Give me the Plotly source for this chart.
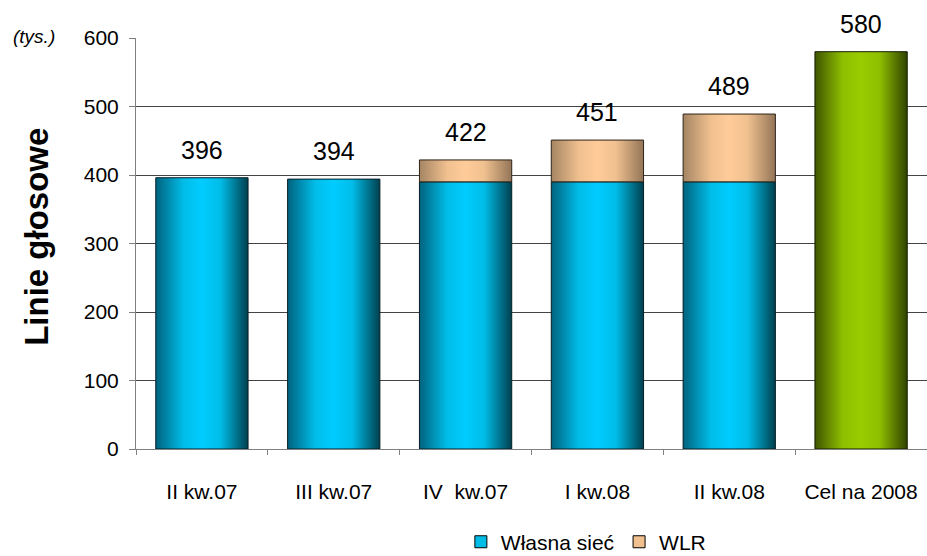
import plotly.graph_objects as go

categories = ["II kw.07", "III kw.07", "IV  kw.07", "I kw.08", "II kw.08", "Cel na 2008"]
wlasna_siec = [396, 394, 390, 390, 390, None]
wlr = [0, 0, 32, 61, 99, None]
cel = [None, None, None, None, None, 580]
totals = [396, 394, 422, 451, 489, 580]
y_ticks = [0, 100, 200, 300, 400, 500, 600]

BAR_W = 0.7
blue_scale = [[0, "#00627e"], [0.3, "#00bde8"], [0.5, "#00ccff"], [0.7, "#00bde8"], [1, "#00404f"]]
tan_scale = [[0, "#a58563"], [0.3, "#f0c08f"], [0.5, "#ffcc99"], [0.7, "#f0c08f"], [1, "#937558"]]
green_scale = [[0, "#3e5500"], [0.3, "#8fbf00"], [0.5, "#99cc00"], [0.7, "#8fbf00"], [1, "#2f4200"]]

fig = go.Figure()

def add_segment(i, base, top, scale, outline):
    x0, x1 = i - BAR_W / 2, i + BAR_W / 2
    fig.add_trace(go.Scatter(
        x=[x0, x1, x1, x0, x0], y=[base, base, top, top, base],
        mode="lines", fill="toself",
        fillgradient=dict(type="horizontal", colorscale=scale),
        line=dict(color=outline, width=1),
        showlegend=False, hoverinfo="skip"))

for i in range(len(categories)):
    if wlasna_siec[i] is not None:
        add_segment(i, 0, wlasna_siec[i], blue_scale, "#061e25")
        if wlr[i]:
            add_segment(i, wlasna_siec[i], wlasna_siec[i] + wlr[i], tan_scale, "#2e2318")
    if cel[i] is not None:
        add_segment(i, 0, cel[i], green_scale, "#141c00")

# legend entries
fig.add_trace(go.Bar(x=[None], y=[None], name="Własna sieć",
                     marker=dict(color="#00bde8", line=dict(color="#000000", width=1))))
fig.add_trace(go.Bar(x=[None], y=[None], name="WLR",
                     marker=dict(color="#f0c08f", line=dict(color="#000000", width=1))))

annotations = [
    dict(x=i, y=v, xref="x", yref="y", text=str(v), showarrow=False,
         xanchor="center", yanchor="bottom", yshift=12,
         font=dict(size=25, color="#000000"))
    for i, v in enumerate(totals)
]
annotations += [
    dict(text="<b>Linie głosowe</b>", textangle=-90, xref="paper", yref="paper",
         x=-0.126, y=0.517, xanchor="center", yanchor="middle", showarrow=False,
         font=dict(size=33, color="#000000")),
    dict(text="<i>(tys.)</i>", xref="paper", yref="paper",
         x=-0.129, y=1.003, xanchor="center", yanchor="middle", showarrow=False,
         font=dict(size=19, color="#000000")),
]

fig.update_layout(
    width=927, height=556,
    margin=dict(l=136, r=0, t=38, b=107, autoexpand=False),
    paper_bgcolor="white", plot_bgcolor="white",
    font=dict(family="Liberation Sans, Arial", size=21, color="#000000"),
    barmode="overlay",
    legend=dict(orientation="h", xref="container", yref="container",
                x=0.632, xanchor="center", y=0.025, yanchor="middle",
                font=dict(size=21), itemwidth=30, traceorder="normal"),
    xaxis=dict(range=[-0.5, len(categories) - 0.5],
               tickvals=list(range(len(categories))), ticktext=categories,
               ticks="", showgrid=False, zeroline=False,
               showline=True, linecolor="#808080", linewidth=1,
               tickfont=dict(size=21), ticklabelstandoff=24,
               minor=dict(tickvals=[k - 0.5 for k in range(len(categories) + 1)],
                          ticks="outside", ticklen=5, tickcolor="#808080", showgrid=False)),
    yaxis=dict(range=[0, 600], tickvals=y_ticks,
               ticks="outside", ticklen=6, tickcolor="#808080",
               showgrid=True, gridcolor="#444444", gridwidth=1,
               zeroline=False, showline=True, linecolor="#808080", linewidth=1,
               tickfont=dict(size=21), ticklabelstandoff=6),
    annotations=annotations,
)

fig.write_html("out.html", config={"displayModeBar": False},
               post_script="document.body.style.margin='0';")
